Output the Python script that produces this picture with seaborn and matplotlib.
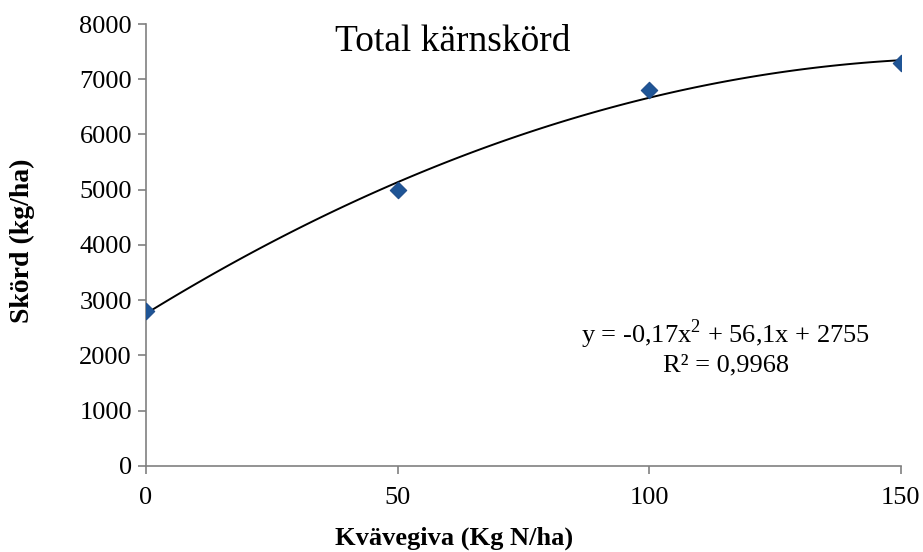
import matplotlib
matplotlib.use("Agg")
import matplotlib.pyplot as plt
import seaborn as sns
import pandas as pd

# data
kvavegiva = [0, 50, 100, 150]
skord = [2800, 5000, 6800, 7300]
x_ticks = [0, 50, 100, 150]
y_ticks = [0, 1000, 2000, 3000, 4000, 5000, 6000, 7000, 8000]
equation = "y = -0,17x$^2$ + 56,1x + 2755"
r2_text = "R² = 0,9968"

df = pd.DataFrame({"kvavegiva": kvavegiva, "skord": skord})

sns.set_style("white")
plt.rcParams["font.family"] = ["Liberation Serif", "DejaVu Serif"]
plt.rcParams["mathtext.fontset"] = "custom"
plt.rcParams["mathtext.rm"] = "Liberation Serif"
plt.rcParams["text.color"] = "black"
plt.rcParams["axes.labelcolor"] = "black"

fig = plt.figure(figsize=(9.23, 5.52), dpi=100)
ax = fig.add_axes([0.158, 0.156, 0.818, 0.8005])

# 2nd order trend line, like the excel polynomial trendline
sns.regplot(data=df, x="kvavegiva", y="skord", order=2, ci=None, scatter=False,
            truncate=True, line_kws={"color": "black", "lw": 1.4}, ax=ax)
sns.scatterplot(data=df, x="kvavegiva", y="skord", marker="D", s=70,
                color="#1F5596", edgecolor="#1F4E8C", linewidth=0.8, zorder=3, ax=ax)

ax.set_xlim(0, 150)
ax.set_ylim(0, 8000)
ax.set_xticks(x_ticks)
ax.set_yticks(y_ticks)
ax.tick_params(axis="both", labelsize=19, length=6, width=1.2, color="#808080",
               labelcolor="black", direction="out", left=True, bottom=True, pad=4)
ax.tick_params(axis="x", pad=9)

for side in ["top", "right"]:
    ax.spines[side].set_visible(False)
for side in ["left", "bottom"]:
    ax.spines[side].set_color("#808080")
    ax.spines[side].set_linewidth(1.2)

ax.set_xlabel("Kvävegiva (Kg N/ha)", fontsize=19, fontweight="bold")
ax.set_ylabel("Skörd (kg/ha)", fontsize=20, fontweight="bold")
ax.xaxis.set_label_coords(0.408, -0.138)
ax.yaxis.set_label_coords(-0.147, 0.51)

ax.text(0.407, 0.96, "Total kärnskörd", transform=ax.transAxes, fontsize=27,
        ha="center", va="center")
ax.text(0.768, 0.297, equation, transform=ax.transAxes, fontsize=19, ha="center", va="center")
ax.text(0.768, 0.228, r2_text, transform=ax.transAxes, fontsize=19, ha="center", va="center")

fig.savefig("out.png", dpi=100)
